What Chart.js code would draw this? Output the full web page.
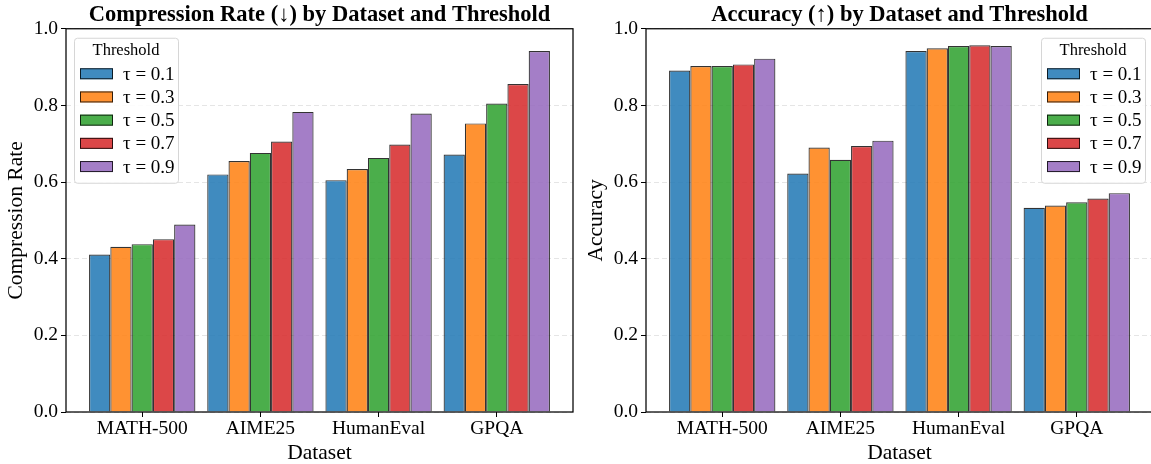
<!DOCTYPE html>
<html>
<head>
<meta charset="utf-8">
<script src="https://cdn.jsdelivr.net/npm/chart.js@4.4.0/dist/chart.umd.min.js"></script>
<style>
    body { margin: 0; background: #fff; overflow: hidden; }
    #wrap { position: relative; width: 1151px; height: 464px; overflow: hidden; }
    canvas { position: absolute; top: 0; }
    #compressionChart { left: 0; }
    #accuracyChart { left: 580px; }
</style>
</head>
<body>
<div id="wrap">
    <canvas id="compressionChart" width="580" height="464"></canvas>
    <canvas id="accuracyChart" width="580" height="464"></canvas>
</div>
<script>
var datasetNames = ["MATH-500", "AIME25", "HumanEval", "GPQA"];
var thresholdLabels = ["τ = 0.1", "τ = 0.3", "τ = 0.5", "τ = 0.7", "τ = 0.9"];
var yTicks = [0, 0.2, 0.4, 0.6, 0.8, 1.0];

// compression rate per dataset, one array per threshold
var compressionTau01 = [0.411, 0.620, 0.605, 0.672];
var compressionTau03 = [0.431, 0.655, 0.634, 0.753];
var compressionTau05 = [0.438, 0.676, 0.663, 0.805];
var compressionTau07 = [0.451, 0.706, 0.698, 0.856];
var compressionTau09 = [0.489, 0.783, 0.779, 0.942];

// accuracy per dataset, one array per threshold
var accuracyTau01 = [0.891, 0.622, 0.942, 0.533];
var accuracyTau03 = [0.903, 0.690, 0.949, 0.539];
var accuracyTau05 = [0.903, 0.658, 0.955, 0.547];
var accuracyTau07 = [0.907, 0.694, 0.957, 0.557];
var accuracyTau09 = [0.922, 0.708, 0.955, 0.571];

var barColors = [
    "rgba(31, 119, 180, 0.85)",
    "rgba(255, 127, 14, 0.85)",
    "rgba(44, 160, 44, 0.85)",
    "rgba(214, 39, 40, 0.85)",
    "rgba(148, 103, 189, 0.85)"
];
var edgeColor = "rgba(0, 0, 0, 0.8)";
var serif = "'Liberation Serif', 'DejaVu Serif', serif";

// black box around the plot area
var framePlugin = {
    id: "frame",
    afterDatasetsDraw: function(chart) {
        var a = chart.chartArea;
        var ctx = chart.ctx;
        ctx.save();
        ctx.strokeStyle = "#000";
        ctx.lineWidth = 1.25;
        ctx.strokeRect(a.left, a.top, a.right - a.left, a.bottom - a.top);
        ctx.restore();
    }
};

function roundedRect(ctx, x, y, w, h, r) {
    ctx.beginPath();
    ctx.moveTo(x + r, y);
    ctx.arcTo(x + w, y, x + w, y + h, r);
    ctx.arcTo(x + w, y + h, x, y + h, r);
    ctx.arcTo(x, y + h, x, y, r);
    ctx.arcTo(x, y, x + w, y, r);
    ctx.closePath();
}

// boxed legend with a "Threshold" heading, drawn inside the plot
var legendPlugin = {
    id: "thresholdLegend",
    afterDraw: function(chart, args, opts) {
        var a = chart.chartArea;
        var ctx = chart.ctx;
        var w = 104, h = 145;
        var x = opts.side === "right" ? a.right - 8 - w : a.left + 8;
        var y = a.top + 9;

        ctx.save();
        roundedRect(ctx, x + 0.5, y + 0.5, w, h, 3);
        ctx.fillStyle = "rgba(255, 255, 255, 0.85)";
        ctx.fill();
        ctx.strokeStyle = "#d6d6d6";
        ctx.lineWidth = 1;
        ctx.stroke();

        ctx.fillStyle = "#000";
        ctx.textAlign = "center";
        ctx.textBaseline = "middle";
        ctx.font = "16.5px " + serif;
        ctx.fillText("Threshold", x + w / 2, y + 13);

        chart.data.datasets.forEach(function(ds, i) {
            var cy = y + 36 + i * 23.2;
            ctx.fillStyle = ds.backgroundColor;
            ctx.fillRect(x + 6, cy - 5.5, 33, 11);
            ctx.strokeStyle = ds.borderColor;
            ctx.strokeRect(x + 6.5, cy - 5, 32, 10);
            ctx.fillStyle = "#000";
            ctx.textAlign = "left";
            ctx.font = "19px " + serif;
            ctx.fillText(ds.label, x + 49, cy + 1);
        });
        ctx.restore();
    }
};

function makeChart(canvasId, title, yTitle, series, legendSide) {
    var datasets = series.map(function(values, i) {
        return {
            label: thresholdLabels[i],
            data: values.map(function(v, j) {
                return { x: j, y: v };
            }),
            backgroundColor: barColors[i],
            borderColor: edgeColor,
            borderWidth: 1.2,
            categoryPercentage: 0.9,
            barPercentage: 1.0
        };
    });

    return new Chart(document.getElementById(canvasId), {
        type: "bar",
        data: { datasets: datasets },
        options: {
            responsive: false,
            animation: false,
            layout: { padding: { left: 0, right: 7, top: 0, bottom: 0 } },
            plugins: {
                legend: { display: false },
                tooltip: { enabled: false },
                title: {
                    display: true,
                    text: title,
                    fullSize: false,
                    color: "#000",
                    font: { family: serif, size: 22.5, weight: "bold", lineHeight: 1.1 },
                    padding: { top: 3, bottom: 1 }
                },
                thresholdLegend: { side: legendSide }
            },
            scales: {
                x: {
                    type: "linear",
                    min: -0.645,
                    max: 3.645,
                    offset: false,
                    afterBuildTicks: function(scale) {
                        scale.ticks = datasetNames.map(function(name, i) {
                            return { value: i };
                        });
                    },
                    afterFit: function(scale) {
                        scale.height = 52;
                    },
                    ticks: {
                        autoSkip: false,
                        maxRotation: 0,
                        padding: 1,
                        color: "#000",
                        font: { family: serif, size: 19.5, lineHeight: 1.1 },
                        callback: function(value) {
                            return datasetNames[value];
                        }
                    },
                    grid: {
                        offset: false,
                        drawOnChartArea: false,
                        drawTicks: true,
                        tickLength: 5,
                        tickColor: "#000"
                    },
                    border: { display: false },
                    title: {
                        display: true,
                        text: "Dataset",
                        color: "#000",
                        font: { family: serif, size: 21.5, lineHeight: 1 },
                        padding: { top: 0, bottom: 0 }
                    }
                },
                y: {
                    min: 0,
                    max: 1,
                    afterBuildTicks: function(scale) {
                        scale.ticks = yTicks.map(function(v) {
                            return { value: v };
                        });
                    },
                    afterFit: function(scale) {
                        scale.width = 66;
                    },
                    ticks: {
                        padding: 3,
                        color: "#000",
                        font: { family: serif, size: 19.5 },
                        callback: function(value) {
                            return value.toFixed(1);
                        }
                    },
                    grid: {
                        color: "rgba(0, 0, 0, 0.1)",
                        lineWidth: 1,
                        drawTicks: true,
                        tickLength: 5,
                        tickColor: "#000"
                    },
                    border: { display: false, dash: [5, 3] },
                    title: {
                        display: true,
                        text: yTitle,
                        color: "#000",
                        font: { family: serif, size: 21.5, lineHeight: 1.2 },
                        padding: { top: 3, bottom: 0 }
                    }
                }
            }
        },
        plugins: [framePlugin, legendPlugin]
    });
}

makeChart("compressionChart", "Compression Rate (↓) by Dataset and Threshold", "Compression Rate",
    [compressionTau01, compressionTau03, compressionTau05, compressionTau07, compressionTau09], "left");
makeChart("accuracyChart", "Accuracy (↑) by Dataset and Threshold", "Accuracy",
    [accuracyTau01, accuracyTau03, accuracyTau05, accuracyTau07, accuracyTau09], "right");
</script>
</body>
</html>
